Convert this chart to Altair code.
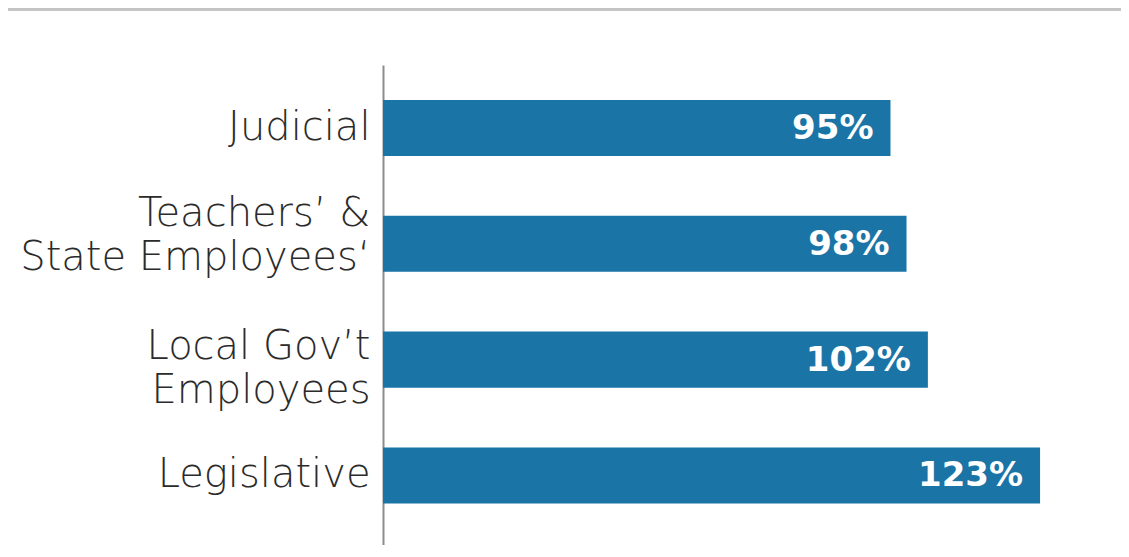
import altair as alt
import pandas as pd

categories = ["Judicial", "Teachers’ &|State Employees‘", "Local Gov’t|Employees", "Legislative"]
values = [95, 98, 102, 123]
labels = ["95%", "98%", "102%", "123%"]

df = pd.DataFrame({"cat": categories, "val": values, "lab": labels})

label_offset = {
    "condition": [
        {"test": "indexof(datum.value, 'Teachers') >= 0", "value": -30},
        {"test": "indexof(datum.value, 'Local') >= 0", "value": -13},
    ],
    "value": 0,
}

y_enc = alt.Y(
    "cat:N",
    sort=categories,
    title=None,
    scale=alt.Scale(paddingInner=0.516, paddingOuter=0.3305, align=0.457),
    axis=alt.Axis(
        labelExpr="split(datum.label, '|')",
        labelFont="DejaVu Sans",
        labelFontWeight=200,
        labelFontSize=40,
        labelColor="#2b2b2b",
        labelLineHeight=44,
        labelPadding=13,
        labelOffset=label_offset,
        ticks=False,
        domainColor="#8c8c8c",
        domainWidth=2,
        labelLimit=400,
    ),
)
x_enc = alt.X("val:Q", scale=alt.Scale(domain=[0, 138.15], nice=False, zero=True), axis=None)

bars = alt.Chart(df).mark_bar(color="#1b74a6").encode(x=x_enc, y=y_enc)
text = alt.Chart(df).mark_text(
    align="right", baseline="middle", dx=-17, dy=1, color="white",
    font="DejaVu Sans", fontWeight="bold", fontSize=34
).encode(x=x_enc, y=alt.Y("cat:N", sort=categories), text="lab:N")

top_rule = alt.Chart(df).mark_rule(color="#c4c4c4", strokeWidth=3).encode(
    x=alt.value(-375), x2=alt.value(746), y=alt.value(-56)
)

chart = alt.layer(bars, text, top_rule).properties(
    width=738, height=480,
    autosize=alt.AutoSizeParams(type="none"),
    padding={"left": 375, "top": 57, "right": 0, "bottom": 0},
).configure(background="white").configure_view(stroke=None, strokeWidth=0)

chart.save("out.html", embed_options={"renderer": "svg", "actions": False})
